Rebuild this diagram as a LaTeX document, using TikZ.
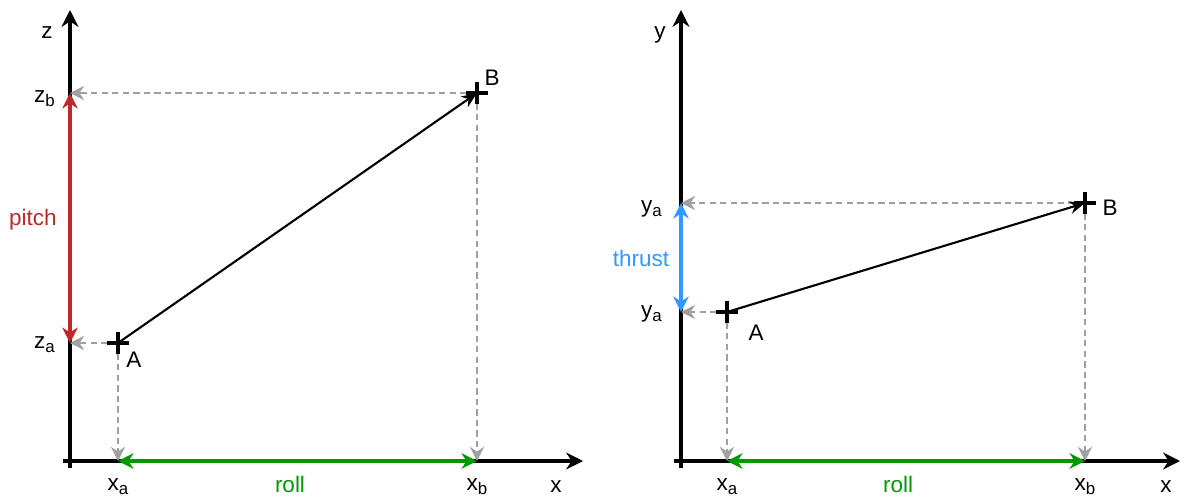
\documentclass[tikz,border=0pt]{standalone}
\usepackage{fontspec}
\setmainfont{Liberation Sans}
\usetikzlibrary{arrows.meta, calc, positioning}
\definecolor{guidegray}{RGB}{160,160,160}
\definecolor{pitchred}{RGB}{190,40,40}
\definecolor{rollgreen}{RGB}{0,153,0}
\definecolor{thrustblue}{RGB}{51,153,255}
\newcommand{\lowidx}[1]{\raisebox{-3.5pt}{\fontsize{12}{12}\selectfont #1}}

\begin{document}
\begin{tikzpicture}[x=0.025cm, y=-0.025cm, font=\fontsize{16}{19}\selectfont]
\tikzstyle{axis} = [line width=2.2pt, -{Stealth[length=12pt, width=12pt]}]
\tikzstyle{guide} = [draw=guidegray, line width=1.4pt, dash pattern=on 4.5pt off 3pt, -{Stealth[length=10pt, width=10pt, fill=guidegray]}]
\tikzstyle{vector} = [line width=1.5pt, -{Stealth[length=11pt, width=9pt]}]
\tikzstyle{span} = [line width=2.4pt, {Stealth[length=11pt, width=11pt]}-{Stealth[length=11pt, width=11pt]}]
\tikzstyle{plus} = [line width=2.2pt]
\tikzstyle{lbl} = [inner sep=0pt]
\useasboundingbox (0,0) rectangle (1195,499);

% left: x-z plane
\coordinate (lo) at (70,461);
\coordinate (la) at (118,343);
\coordinate (lb) at (477,93);
\coordinate (lza) at (70,343);
\coordinate (lzb) at (70,93);
\coordinate (lxa) at (118,461);
\coordinate (lxb) at (477,461);

\draw [axis] ($(lo)+(0,7)$) -- (70,10) coordinate (lztip);
\draw [axis] ($(lo)+(-7,0)$) -- (583,461) coordinate (lxtip);

\draw [guide] (lb) -- (lzb);
\draw [guide] (lb) -- (lxb);
\draw [guide] (la) -- (lza);
\draw [guide] (la) -- (lxa);

\draw [span, pitchred] (lzb) -- (lza);
\draw [span, rollgreen] (lxa) -- (lxb);
\draw [vector] (la) -- (lb);

\draw [plus] ($(la)+(-11,0)$) -- ($(la)+(11,0)$) ($(la)+(0,-11)$) -- ($(la)+(0,11)$);
\draw [plus] ($(lb)+(-11,0)$) -- ($(lb)+(11,0)$) ($(lb)+(0,-11)$) -- ($(lb)+(0,11)$);

\node (lzlabel) [lbl, anchor=base east] at (53,39) {z};
\node (lzblabel) [lbl, anchor=base east] at (55,102) {z\lowidx{b}};
\node (lzalabel) [lbl, anchor=base east] at (55,348) {z\lowidx{a}};
\node (pitch) [lbl, pitchred] at (33,220) {pitch};
\node (lalabel) [lbl, anchor=base] at (134,367) {A};
\node (lblabel) [lbl, anchor=base] at (492,86) {B};
\node (lxalabel) [lbl, anchor=base] at (118,490) {x\lowidx{a}};
\node (lroll) [lbl, anchor=base, rollgreen] at (290,492) {roll};
\node (lxblabel) [lbl, anchor=base] at (477,490) {x\lowidx{b}};
\node (lxlabel) [lbl, anchor=base] at (556,492) {x};

% right: x-y plane
\coordinate (ro) at (681,461);
\coordinate (ra) at (727,312);
\coordinate (rb) at (1085,203);
\coordinate (rya) at (681,312);
\coordinate (ryb) at (681,203);
\coordinate (rxa) at (727,461);
\coordinate (rxb) at (1085,461);

\draw [axis] ($(ro)+(0,7)$) -- (681,10) coordinate (rytip);
\draw [axis] ($(ro)+(-7,0)$) -- (1180,461) coordinate (rxtip);

\draw [guide] (rb) -- (ryb);
\draw [guide] (rb) -- (rxb);
\draw [guide] (ra) -- (rya);
\draw [guide] (ra) -- (rxa);

\draw [span, thrustblue] (ryb) -- (rya);
\draw [span, rollgreen] (rxa) -- (rxb);
\draw [vector] (ra) -- (rb);

\draw [plus] ($(ra)+(-11,0)$) -- ($(ra)+(11,0)$) ($(ra)+(0,-11)$) -- ($(ra)+(0,11)$);
\draw [plus] ($(rb)+(-11,0)$) -- ($(rb)+(11,0)$) ($(rb)+(0,-11)$) -- ($(rb)+(0,11)$);

\node (rylabel) [lbl, anchor=base east] at (666,39) {y};
\node (ryblabel) [lbl, anchor=base east] at (662,212) {y\lowidx{a}};
\node (ryalabel) [lbl, anchor=base east] at (662,317) {y\lowidx{a}};
\node (thrust) [lbl, thrustblue] at (641,258) {thrust};
\node (ralabel) [lbl, anchor=base] at (756,340) {A};
\node (rblabel) [lbl, anchor=base] at (1110,215) {B};
\node (rxalabel) [lbl, anchor=base] at (727,490) {x\lowidx{a}};
\node (rroll) [lbl, anchor=base, rollgreen] at (898,492) {roll};
\node (rxblabel) [lbl, anchor=base] at (1085,490) {x\lowidx{b}};
\node (rxlabel) [lbl, anchor=base] at (1166,492) {x};
\end{tikzpicture}
\end{document}
